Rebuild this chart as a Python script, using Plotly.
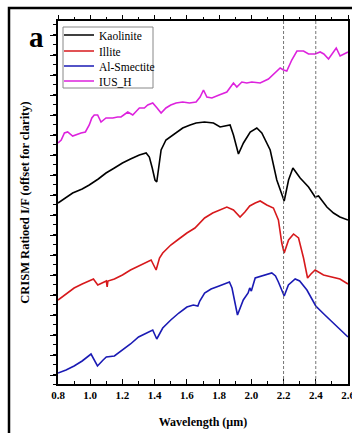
import plotly.graph_objects as go

# ---- data (offset I/F in arbitrary units) ----
wl_kaolinite = [0.80, 0.85, 0.891, 0.95, 0.994, 1.05, 1.098, 1.15, 1.20, 1.25, 1.305, 1.347, 1.367, 1.385,
                1.402, 1.413, 1.425, 1.44, 1.47, 1.52, 1.574, 1.62, 1.657, 1.709, 1.765, 1.806, 1.868, 1.889,
                1.92, 1.951, 1.993, 2.034, 2.065, 2.117, 2.158, 2.204, 2.231, 2.258, 2.303, 2.355, 2.396,
                2.417, 2.469, 2.51, 2.55, 2.6]
kaolinite = [181, 187, 191, 195, 199, 205, 211, 216, 221, 225, 229, 231, 227, 216,
             204, 202, 219, 234, 244, 250, 256, 259, 261, 262, 261, 257, 259, 249,
             230, 241, 252, 256, 251, 234, 204, 183, 204, 216, 206, 197, 187,
             188, 177, 171, 167, 164]

wl_illite = [0.80, 0.85, 0.90, 0.95, 1.00, 1.02, 1.047, 1.08, 1.10, 1.105, 1.11, 1.15, 1.20, 1.25, 1.30,
             1.35, 1.378, 1.409, 1.43, 1.45, 1.50, 1.55, 1.60, 1.65, 1.68, 1.71, 1.76, 1.80, 1.848, 1.889,
             1.93, 1.96, 1.99, 2.024, 2.055, 2.096, 2.137, 2.168, 2.189, 2.204, 2.231, 2.262, 2.293,
             2.324, 2.349, 2.37, 2.396, 2.448, 2.51, 2.55, 2.6]
illite = [84, 90, 96, 100, 103, 105, 99, 102, 103, 97, 103, 105, 109, 114, 118,
          122, 124, 114, 126, 131, 139, 145, 151, 156, 161, 166, 171, 174, 177, 174,
          167, 172, 178, 181, 183, 179, 176, 164, 141, 131, 144, 150, 146,
          126, 106, 110, 114, 109, 107, 105, 100]

wl_smectite = [0.80, 0.85, 0.90, 0.95, 1.005, 1.045, 1.08, 1.10, 1.15, 1.20, 1.25, 1.30, 1.35, 1.388,
               1.413, 1.45, 1.50, 1.55, 1.60, 1.64, 1.668, 1.68, 1.71, 1.75, 1.80, 1.864, 1.88, 1.914,
               1.95, 1.98, 1.99, 2.00, 2.024, 2.06, 2.10, 2.127, 2.15, 2.168, 2.204, 2.23, 2.272, 2.30,
               2.345, 2.37, 2.40, 2.45, 2.50, 2.55, 2.6]
smectite = [11, 14, 18, 23, 30, 18, 24, 27, 28, 34, 40, 47, 51, 54,
            45, 56, 64, 71, 77, 79, 78, 83, 91, 95, 98, 102, 96, 69,
            84, 91, 96, 93, 106, 108, 110, 111, 108, 102, 88, 99, 105, 103,
            94, 86, 78, 70, 62, 54, 47]

wl_ius = [0.80, 0.82, 0.84, 0.86, 0.891, 0.92, 0.943, 0.97, 0.994, 1.01, 1.025, 1.046, 1.067, 1.098,
          1.14, 1.17, 1.191, 1.233, 1.264, 1.305, 1.336, 1.357, 1.388, 1.415, 1.44, 1.47, 1.50, 1.533,
          1.574, 1.616, 1.657, 1.682, 1.703, 1.724, 1.755, 1.80, 1.848, 1.889, 1.91, 1.941, 1.972,
          2.003, 2.055, 2.106, 2.148, 2.179, 2.20, 2.22, 2.251, 2.283, 2.324, 2.355, 2.396, 2.427,
          2.45, 2.479, 2.527, 2.551, 2.6]
ius_h = [241, 244, 251, 252, 248, 250, 251, 252, 259, 266, 269, 269, 262, 266,
         266, 267, 267, 272, 269, 276, 276, 279, 281, 276, 271, 276, 279, 281,
         282, 281, 282, 287, 294, 287, 286, 289, 292, 301, 297, 302, 301,
         302, 301, 305, 311, 316, 314, 313, 324, 333, 333, 330, 330, 332,
         330, 325, 336, 328, 332]

marker_lines = [2.2, 2.4]
x_ticks = [0.8, 1.0, 1.2, 1.4, 1.6, 1.8, 2.0, 2.2, 2.4, 2.6]

series_names = ["Kaolinite", "Illite", "Al-Smectite", "IUS_H"]
series_x = [wl_kaolinite, wl_illite, wl_smectite, wl_ius]
series_y = [kaolinite, illite, smectite, ius_h]
series_colors = ["#000000", "#d7191c", "#1a1ab4", "#dd22dd"]

serif = "Liberation Serif, Times New Roman, serif"

W, H = 352, 433
ML, MR, MT, MB = 58, 4, 21, 49
PW, PH = W - ML - MR, H - MT - MB


def px_x(p):
    return (p - ML) / PW


def px_y(p):
    return (H - MB - p) / PH


legend_rows_px = [35, 51, 66, 81]
legend_ids = ["legend", "legend2", "legend3", "legend4"]

fig = go.Figure()
for name, x, y, c, lid in zip(series_names, series_x, series_y, series_colors, legend_ids):
    fig.add_trace(go.Scatter(x=x, y=y, mode="lines", name=name, legend=lid,
                             line=dict(color=c, width=1.6)))

# invisible trace carrying the top axis ticks
fig.add_trace(go.Scatter(x=[0.8, 2.6], y=[0, 0], xaxis="x2", mode="lines",
                         line=dict(width=0), showlegend=False, hoverinfo="skip"))

for xv in marker_lines:
    fig.add_vline(x=xv, line=dict(color="#666666", width=0.9, dash="3px,2px"))

legend_common = dict(xanchor="left", yanchor="middle", bgcolor="rgba(0,0,0,0)",
                     borderwidth=0, font=dict(size=11.5, family=serif, color="black"),
                     itemwidth=30)
legends = {}
for lid, rowp in zip(legend_ids, legend_rows_px):
    legends[lid] = dict(x=px_x(59), y=px_y(rowp), **legend_common)

fig.update_layout(
    width=W, height=H,
    margin=dict(l=ML, r=MR, t=MT, b=MB),
    paper_bgcolor="white", plot_bgcolor="white",
    font=dict(family=serif, color="black"),
    showlegend=True,
    xaxis=dict(range=[0.8, 2.6], tickvals=x_ticks, tickformat=".1f", automargin=False,
               ticklabeloverflow="allow",
               ticks="inside", ticklen=5, tickwidth=1.2, tickcolor="black",
               minor=dict(dtick=0.1, ticks="inside", ticklen=3, tickcolor="black"),
               showline=True, linecolor="black", linewidth=1.5, mirror=True,
               showgrid=False, zeroline=False,
               tickfont=dict(size=11, family=serif, weight="bold"),
               title=dict(text="<b>Wavelength (µm)</b>", font=dict(size=12, family=serif),
                          standoff=18)),
    xaxis2=dict(range=[0.8, 2.6], overlaying="x", side="top", tickvals=x_ticks, automargin=False,
                ticks="outside", ticklen=5, tickwidth=1.2, tickcolor="black",
                minor=dict(dtick=0.1, ticks="outside", ticklen=3, tickcolor="black"),
                showticklabels=False, showgrid=False, zeroline=False, showline=False),
    yaxis=dict(range=[0, 363], tick0=9, dtick=20, showticklabels=False, automargin=False,
               ticks="outside", ticklen=6, tickwidth=1.2, tickcolor="black",
               minor=dict(dtick=10, ticks="outside", ticklen=3, tickcolor="black"),
               showline=True, linecolor="black", linewidth=1.5, mirror=True,
               showgrid=False, zeroline=False,
               title=dict(text="<b>CRISM Ratioed I/F (offset for clarity)</b>",
                          font=dict(size=12.5, family=serif), standoff=18)),
    **legends,
)

# legend border box
fig.add_shape(type="rect", xref="paper", yref="paper",
              x0=px_x(63), x1=px_x(153), y0=px_y(88), y1=px_y(27),
              line=dict(color="#888888", width=1), fillcolor="rgba(0,0,0,0)", layer="below")

fig.add_annotation(text="<b>a</b>", x=px_x(36), y=px_y(37), xref="paper", yref="paper",
                   xanchor="center", yanchor="middle",
                   showarrow=False, font=dict(size=29, family=serif, color="black"))

# outer frame of the panel
fig.add_shape(type="rect", xref="paper", yref="paper",
              x0=px_x(9), x1=px_x(360), y0=px_y(445), y1=px_y(8),
              line=dict(color="black", width=2.5), fillcolor="rgba(0,0,0,0)")

fig.write_html("out.html", config={"displayModeBar": False},
               post_script="document.body.style.margin='0';")
